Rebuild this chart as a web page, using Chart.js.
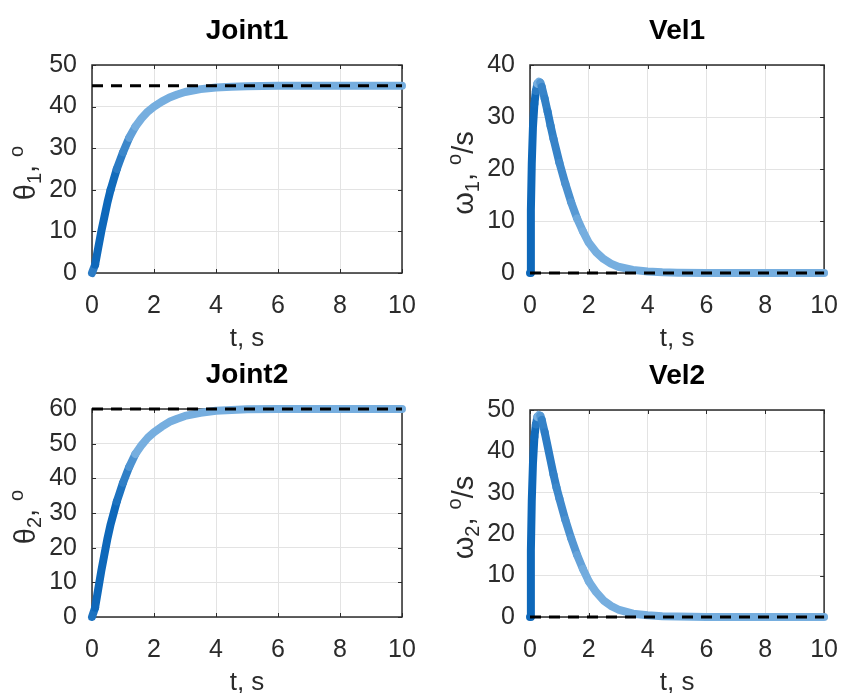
<!DOCTYPE html>
<html>
<head>
<meta charset="utf-8">
<script src="https://cdn.jsdelivr.net/npm/chart.js@4/dist/chart.umd.min.js"></script>
<style>
  html, body { margin: 0; padding: 0; background: #fff; }
  #fig { position: relative; width: 856px; height: 693px; overflow: hidden; background: #fff; }
  #fig canvas { position: absolute; left: 0; top: 0; }
</style>
</head>
<body>
<div id="fig"></div>
<script>
// ── Data ────────────────────────────────────────────────────────
// joint angle samples (deg) against time (s)
const tPos   = [0, 0.1, 0.2, 0.3, 0.4, 0.5, 0.6, 0.7, 0.8, 0.9, 1.0, 1.2, 1.4, 1.6, 1.8, 2.0, 2.25, 2.5, 2.75, 3.0, 3.5, 4.0, 4.5, 5.0, 6.0, 7.0, 8.0, 9.0, 10.0];
const joint1 = [0, 2, 6, 10, 13.5, 17, 20, 22.5, 25, 27, 29, 32.5, 35.2, 37.2, 38.8, 40.0, 41.2, 42.2, 42.9, 43.5, 44.2, 44.6, 44.8, 44.9, 45, 45, 45, 45, 45];
const joint2 = [0, 2.7, 8, 13.3, 18, 22.7, 26.7, 30, 33.3, 36, 38.7, 43.3, 47, 49.6, 51.7, 53.3, 54.9, 56.3, 57.2, 58, 58.9, 59.5, 59.7, 59.9, 60, 60, 60, 60, 60];

// joint velocity samples (deg/s)
const tVel = [0, 0.03, 0.06, 0.1, 0.15, 0.2, 0.25, 0.3, 0.35, 0.4, 0.5, 0.6, 0.7, 0.8, 0.9, 1.0, 1.2, 1.4, 1.6, 1.8, 2.0, 2.25, 2.5, 2.75, 3.0, 3.5, 4.0, 4.5, 5.0, 6.0, 7.0, 8.0, 9.0, 10.0];
const vel1 = [0, 12, 21, 28, 32.5, 35, 36.4, 36.8, 36.6, 35.8, 33.5, 31, 28.3, 25.8, 23.5, 21.2, 17.2, 13.6, 10.5, 8.0, 5.8, 4.0, 2.7, 1.8, 1.2, 0.6, 0.3, 0.15, 0.07, 0.02, 0, 0, 0, 0];
const vel2 = [0, 16, 28, 37, 43.5, 46.5, 48.3, 48.8, 48.6, 47.6, 44.6, 41.2, 37.8, 34.4, 31.3, 28.6, 23.5, 19, 15, 11.6, 8.6, 6.0, 4.0, 2.7, 1.8, 0.8, 0.4, 0.2, 0.1, 0.03, 0, 0, 0, 0];

// setpoints (dashed)
const joint1Ref = 45;
const joint2Ref = 60;
const velRef = 0;

// tick values
const tTicks = [0, 2, 4, 6, 8, 10];
const joint1Ticks = [0, 10, 20, 30, 40, 50];
const vel1Ticks = [0, 10, 20, 30, 40];
const joint2Ticks = [0, 10, 20, 30, 40, 50, 60];
const vel2Ticks = [0, 10, 20, 30, 40, 50];

// ── Style ───────────────────────────────────────────────────────
const W = 856, H = 693;
const FONT = "'Liberation Sans', Arial, Helvetica, sans-serif";
const INK = '#2b2b2b';
const LIGHT = [118, 174, 223];
const DARK = [14, 104, 186];

// steep parts of the trace read darker, flat parts lighter
function bandColor(lo, hi) {
  return ctx => {
    const dx = Math.abs(ctx.p1.x - ctx.p0.x);
    const dy = Math.abs(ctx.p1.y - ctx.p0.y);
    const ang = Math.atan2(dy, dx) * 180 / Math.PI;
    const f = Math.min(1, Math.max(0, (ang - lo) / (hi - lo)));
    const c = LIGHT.map((l, i) => Math.round(l + (DARK[i] - l) * f));
    return `rgb(${c[0]},${c[1]},${c[2]})`;
  };
}

// axes box with inward ticks (under the traces) and the panel text (on top)
const panelDecor = {
  id: 'panelDecor',
  beforeDatasetsDraw(chart) {
    const { ctx, chartArea: a } = chart;
    const xs = chart.scales.x, ys = chart.scales.y;
    ctx.save();
    ctx.strokeStyle = INK;
    ctx.lineWidth = 1;
    ctx.beginPath();
    xs.ticks.forEach(t => {
      const px = Math.round(xs.getPixelForValue(t.value)) + 0.5;
      ctx.moveTo(px, a.bottom); ctx.lineTo(px, a.bottom - 4);
      ctx.moveTo(px, a.top); ctx.lineTo(px, a.top + 4);
    });
    ys.ticks.forEach(t => {
      const py = Math.round(ys.getPixelForValue(t.value)) + 0.5;
      ctx.moveTo(a.left, py); ctx.lineTo(a.left + 4, py);
      ctx.moveTo(a.right, py); ctx.lineTo(a.right - 4, py);
    });
    ctx.stroke();
    ctx.lineWidth = 1.5;
    ctx.strokeRect(a.left, a.top, a.right - a.left, a.bottom - a.top);
    ctx.restore();
  },
  afterDraw(chart, args, o) {
    const { ctx, chartArea: a } = chart;
    ctx.save();
    ctx.fillStyle = '#000';
    ctx.textAlign = 'center';
    ctx.textBaseline = 'alphabetic';
    const cx = (a.left + a.right) / 2;
    ctx.font = `bold 28px ${FONT}`;
    ctx.fillText(o.title, cx, a.top - 26);

    ctx.fillStyle = INK;
    ctx.font = `26px ${FONT}`;
    ctx.fillText(o.xLabel, cx, a.bottom + 73);

    // rotated y label with sub/superscripts
    const big = 29, small = 20;
    const parts = o.yLabel.map(([s, kind]) => {
      const size = kind ? small : big;
      ctx.font = `${size}px ${FONT}`;
      return { s, kind, size, w: ctx.measureText(s).width };
    });
    const total = parts.reduce((sum, p) => sum + p.w, 0);
    ctx.translate(a.left - 57, (a.top + a.bottom) / 2 + 4);
    ctx.rotate(-Math.PI / 2);
    ctx.textAlign = 'left';
    let x = -total / 2;
    parts.forEach(p => {
      ctx.font = `${p.size}px ${FONT}`;
      const dy = p.kind === 'sub' ? 6 : p.kind === 'sup' ? -12 : 0;
      ctx.fillText(p.s, x, dy);
      x += p.w;
    });
    ctx.restore();
  }
};

function makePanel(p) {
  const canvas = document.createElement('canvas');
  canvas.width = W;
  canvas.height = H;
  document.getElementById('fig').appendChild(canvas);

  const yW = 60, xH = 40;
  const a = p.area;
  const pts = p.t.map((t, i) => ({ x: t, y: p.y[i] }));

  return new Chart(canvas, {
    type: 'scatter',
    data: {
      datasets: [
        {
          data: [{ x: 0, y: p.ref }, { x: 10, y: p.ref }],
          showLine: true,
          clip: 4,
          borderColor: '#000',
          borderWidth: 3,
          borderDash: [11, 8],
          pointRadius: 0,
        },
        {
          data: pts,
          showLine: true,
          clip: 5,
          borderWidth: 8,
          borderColor: 'rgb(118,174,223)',
          borderCapStyle: 'round',
          borderJoinStyle: 'round',
          segment: { borderColor: bandColor(p.shade[0], p.shade[1]) },
          pointRadius: 0,
        },
      ],
    },
    options: {
      responsive: false,
      animation: false,
      events: [],
      layout: {
        padding: { left: a.left - yW, right: W - a.right, top: a.top, bottom: H - a.bottom - xH },
      },
      plugins: {
        legend: { display: false },
        tooltip: { enabled: false },
        panelDecor: { title: p.title, xLabel: 't, s', yLabel: p.yLabel },
      },
      scales: {
        x: {
          type: 'linear', min: 0, max: 10,
          afterFit: s => { s.height = xH; },
          afterBuildTicks: s => { s.ticks = tTicks.map(v => ({ value: v })); },
          grid: { color: '#e3e3e3', drawTicks: false },
          border: { display: false },
          ticks: { color: INK, font: { family: FONT, size: 25 }, padding: 18, maxRotation: 0, autoSkip: false },
        },
        y: {
          type: 'linear', min: p.yTicks[0], max: p.yTicks[p.yTicks.length - 1],
          afterFit: s => { s.width = yW; },
          afterBuildTicks: s => { s.ticks = p.yTicks.map(v => ({ value: v })); },
          grid: { color: '#e3e3e3', drawTicks: false },
          border: { display: false },
          ticks: { color: INK, font: { family: FONT, size: 25 }, padding: 15, autoSkip: false },
        },
      },
    },
    plugins: [panelDecor],
  });
}

const panels = [
  { title: 'Joint1', t: tPos, y: joint1, ref: joint1Ref, yTicks: joint1Ticks, shade: [58, 74],
    yLabel: [['θ', ''], ['1', 'sub'], [', ', ''], ['o', 'sup']],
    area: { left: 92, right: 402, top: 65, bottom: 273 } },
  { title: 'Vel1', t: tVel, y: vel1, ref: velRef, yTicks: vel1Ticks, shade: [64, 84],
    yLabel: [['ω', ''], ['1', 'sub'], [', ', ''], ['o', 'sup'], ['/s', '']],
    area: { left: 530, right: 841, top: 65, bottom: 273 } },
  { title: 'Joint2', t: tPos, y: joint2, ref: joint2Ref, yTicks: joint2Ticks, shade: [58, 74],
    yLabel: [['θ', ''], ['2', 'sub'], [', ', ''], ['o', 'sup']],
    area: { left: 92, right: 402, top: 409, bottom: 617 } },
  { title: 'Vel2', t: tVel, y: vel2, ref: velRef, yTicks: vel2Ticks, shade: [64, 84],
    yLabel: [['ω', ''], ['2', 'sub'], [', ', ''], ['o', 'sup'], ['/s', '']],
    area: { left: 530, right: 841, top: 410, bottom: 617 } },
];

panels.forEach(makePanel);
</script>
</body>
</html>
